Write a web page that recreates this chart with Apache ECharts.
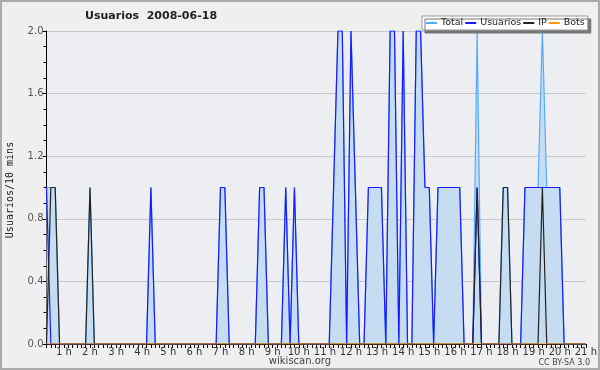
<!DOCTYPE html>
<html>
<head>
<meta charset="utf-8">
<script src="https://cdn.jsdelivr.net/npm/echarts@6/dist/echarts.min.js"></script>
<style>
html,body{margin:0;padding:0;background:#efefef;}
#chart{width:600px;height:370px;}
</style>
</head>
<body>
<div id="chart"></div>
<script>
// 10-minute slots from 00:20 to 21:00
const categories = [];
for (let k = 2; k <= 126; k++) {
  const h = Math.floor(k / 6), m = (k % 6) * 10;
  categories.push(h + ':' + (m < 10 ? '0' + m : m));
}
const seriesNames = ['Total', 'Usuarios', 'IP', 'Bots'];
const yTicks = [0, 0.4, 0.8, 1.2, 1.6, 2.0];

const total = [
  1,1,1,0,
  0,0,0,0,0,0,  1,0,0,0,0,0,  0,0,0,0,0,0,  0,0,1,0,0,0,  0,0,0,0,0,0,
  0,0,0,0,0,0,  1,1,0,0,0,0,  0,0,0,1,1,0,  0,0,0,1,0,1,  0,0,0,0,0,0,
  0,0,1,2,2,0,  2,1,0,0,1,1,  1,1,0,2,2,0,  2,0,0,2,2,1,  1,0,1,1,1,1,
  1,1,0,0,0,2,  0,0,0,0,0,1,  1,0,0,0,1,1,  1,1,2,1,1,1,  1,0,0,0,0,0,
  0
];
const usuarios = [
  1,0,0,0,
  0,0,0,0,0,0,  0,0,0,0,0,0,  0,0,0,0,0,0,  0,0,1,0,0,0,  0,0,0,0,0,0,
  0,0,0,0,0,0,  1,1,0,0,0,0,  0,0,0,1,1,0,  0,0,0,1,0,1,  0,0,0,0,0,0,
  0,0,1,2,2,0,  2,1,0,0,1,1,  1,1,0,2,2,0,  2,0,0,2,2,1,  1,0,1,1,1,1,
  1,1,0,0,0,1,  0,0,0,0,0,0,  0,0,0,0,1,1,  1,1,1,1,1,1,  1,0,0,0,0,0,
  0
];
const ip = [
  0,1,1,0,
  0,0,0,0,0,0,  1,0,0,0,0,0,  0,0,0,0,0,0,  0,0,0,0,0,0,  0,0,0,0,0,0,
  0,0,0,0,0,0,  0,0,0,0,0,0,  0,0,0,0,0,0,  0,0,0,0,0,0,  0,0,0,0,0,0,
  0,0,0,0,0,0,  0,0,0,0,0,0,  0,0,0,0,0,0,  0,0,0,0,0,0,  0,0,0,0,0,0,
  0,0,0,0,0,1,  0,0,0,0,0,1,  1,0,0,0,0,0,  0,0,1,0,0,0,  0,0,0,0,0,0,
  0
];
const bots = [
  0,0,0,0,
  0,0,0,0,0,0,  0,0,0,0,0,0,  0,0,0,0,0,0,  0,0,0,0,0,0,  0,0,0,0,0,0,
  0,0,0,0,0,0,  0,0,0,0,0,0,  0,0,0,0,0,0,  0,0,0,0,0,0,  0,0,0,0,0,0,
  0,0,0,0,0,0,  0,0,0,0,0,0,  0,0,0,0,0,0,  0,0,0,0,0,0,  0,0,0,0,0,0,
  0,0,0,0,0,0,  0,0,0,0,0,0,  0,0,0,0,0,0,  0,0,0,0,0,0,  0,0,0,0,0,0,
  0
];

const chart = echarts.init(document.getElementById('chart'), null, {renderer: 'canvas'});
const font = 'DejaVu Sans';
function lineSeries(name, data, color, area) {
  const s = {
    name: name, type: 'line', data: data, symbol: 'none',
    lineStyle: {color: color, width: 1.2}, itemStyle: {color: color},
    emphasis: {disabled: true}
  };
  if (area) s.areaStyle = {color: '#c6dcf0', opacity: 1};
  return s;
}
chart.setOption({
  animation: false,
  backgroundColor: '#efefef',
  grid: {left: 46.5, right: 10.2, top: 31, bottom: 26, containLabel: false,
         show: true, backgroundColor: '#eceef1', borderWidth: 0},
  legend: {
    data: seriesNames, left: 422, top: 16, orient: 'horizontal',
    backgroundColor: '#ffffff', borderColor: '#999', borderWidth: 1,
    shadowColor: '#777', shadowOffsetX: 3, shadowOffsetY: 3, shadowBlur: 0,
    padding: [2, 3, 2, 4], itemGap: 2, itemWidth: 11, itemHeight: 2, icon: 'rect',
    textStyle: {fontFamily: font, fontSize: 9.5, color: '#222', padding: [0, 0, 0, -1]}
  },
  xAxis: {
    type: 'category', data: categories, boundaryGap: false,
    axisLine: {lineStyle: {color: '#000', width: 1}},
    axisTick: {show: true, interval: 0, length: 4, lineStyle: {color: '#000'}},
    axisLabel: {
      interval: function (i, v) { return v.slice(-2) === '00'; },
      formatter: function (v) { return parseInt(v, 10) + ' h'; },
      fontFamily: font, fontSize: 10, color: '#333', margin: 3
    },
    splitLine: {show: false}
  },
  yAxis: {
    type: 'value', min: yTicks[0], max: yTicks[yTicks.length - 1], interval: 0.4,
    axisLine: {show: true, lineStyle: {color: '#000'}},
    axisTick: {show: true, length: 4, lineStyle: {color: '#000'}},
    minorTick: {show: true, splitNumber: 4, length: 3, lineStyle: {color: '#000'}},
    axisLabel: {formatter: function (v) { return v.toFixed(1); },
      fontFamily: font, fontSize: 10, color: '#555', margin: 3},
    splitLine: {show: true, lineStyle: {color: '#c8c8c8', width: 1}}
  },
  series: [
    lineSeries('Total', total, '#55aaff', true),
    lineSeries('Usuarios', usuarios, '#1a1aff', false),
    lineSeries('IP', ip, '#222222', false),
    lineSeries('Bots', bots, '#ff9900', false)
  ],
  graphic: [
    {type: 'rect', shape: {x: 1, y: 1, width: 598, height: 368},
     style: {fill: 'none', stroke: '#aaaaaa', lineWidth: 2}, silent: true},
    {type: 'text', left: 85, top: 11,
     style: {text: 'Usuarios  2008-06-18', font: 'bold 11px "DejaVu Sans"', fill: '#222'}},
    {type: 'text', x: 10, y: 190, rotation: Math.PI / 2,
     style: {text: 'Usuarios/10 mins', font: '10px "DejaVu Sans Mono"', fill: '#222',
             textAlign: 'center', textVerticalAlign: 'middle'}},
    {type: 'text', x: 300, y: 361,
     style: {text: 'wikiscan.org', font: '10px "DejaVu Sans"', fill: '#444',
             textAlign: 'center', textVerticalAlign: 'middle'}},
    {type: 'text', x: 590, y: 363,
     style: {text: 'CC BY-SA 3.0', font: '8px "DejaVu Sans"', fill: '#444',
             textAlign: 'right', textVerticalAlign: 'middle'}}
  ]
});
</script>
</body>
</html>
